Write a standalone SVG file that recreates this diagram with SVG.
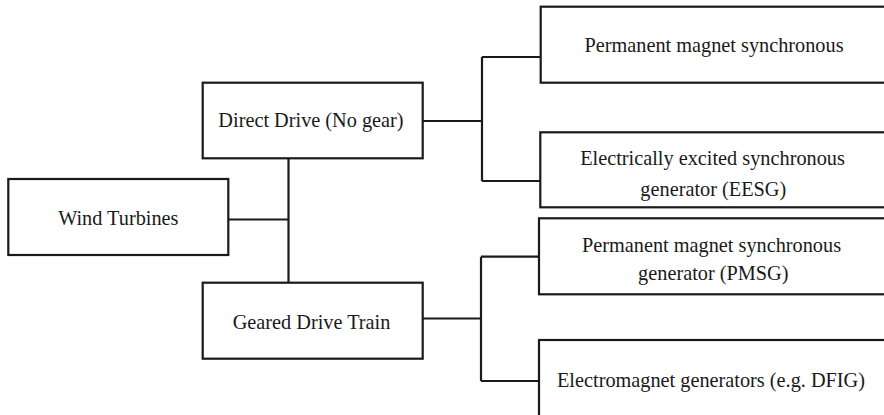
<svg xmlns="http://www.w3.org/2000/svg" width="884" height="415" viewBox="0 0 884 415">
<style>
.box{fill:#fff;stroke:#1a1a1a;stroke-width:2.2}
.t{font-family:"Liberation Serif","Times New Roman",serif;font-size:20.3px;fill:#1a1a1a;text-anchor:middle}
.c{fill:none;stroke:#1a1a1a;stroke-width:2.2}
</style>
<rect width="884" height="415" fill="#fff"/>
<g id="connectors">
<path class="c" d="M228.3,219.5H288.5M288.5,158.3V282.7"/>
<path class="c" d="M422.7,121H482M482,57V181M482,57H540.7M482,181H540.7"/>
<path class="c" d="M422.7,318.5H481M481,256.7V381M481,256.7H539M481,381H539"/>
</g>
<g id="wind">
<rect class="box" x="8.3" y="179" width="220" height="76"/>
<text class="t" x="118.3" y="225">Wind Turbines</text>
</g>
<g id="direct">
<rect class="box" x="202.7" y="82.7" width="220" height="75.6"/>
<text class="t" x="311" y="127.3">Direct Drive (No gear)</text>
</g>
<g id="geared">
<rect class="box" x="202.7" y="282.7" width="220" height="76"/>
<text class="t" x="311.5" y="329.3">Geared Drive Train</text>
</g>
<g id="pms">
<rect class="box" x="540.7" y="6.7" width="360" height="76"/>
<text class="t" x="714" y="51.5">Permanent magnet synchronous</text>
</g>
<g id="eesg">
<rect class="box" x="540.3" y="132.3" width="360" height="75"/>
<text class="t" x="712.5" y="164.8">Electrically excited synchronous</text>
<text class="t" x="713.3" y="196">generator (EESG)</text>
</g>
<g id="pmsg">
<rect class="box" x="539" y="218.3" width="360" height="76"/>
<text class="t" x="711.5" y="251.7">Permanent magnet synchronous</text>
<text class="t" x="713.3" y="279.5">generator (PMSG)</text>
</g>
<g id="em">
<rect class="box" x="539" y="340" width="360" height="100"/>
<text class="t" x="711" y="386.7">Electromagnet generators (e.g. DFIG)</text>
</g>
</svg>
